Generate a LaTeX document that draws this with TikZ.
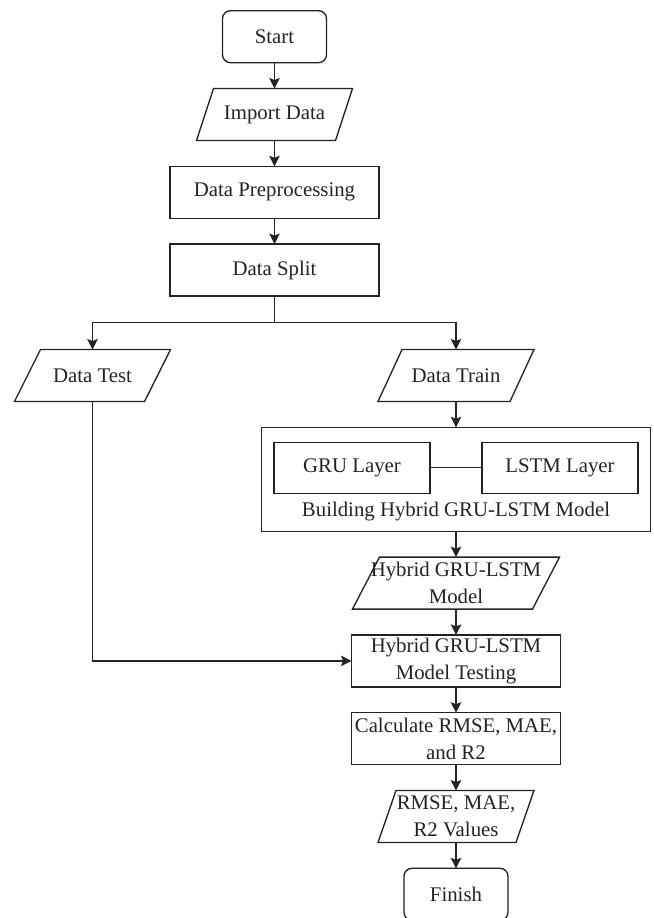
\documentclass[tikz,border=0pt]{standalone}
\usepackage{fontspec}
\setmainfont{Liberation Serif}
\usepackage{tikz}
\usetikzlibrary{positioning,arrows.meta,calc}
\definecolor{linecolor}{RGB}{35, 35, 35}
\definecolor{labelcolor}{RGB}{35, 35, 35}
\tikzset{
    base box/.style={rectangle, draw=linecolor, line width=0.95pt, text=labelcolor, align=center, inner xsep=2pt, inner ysep=1pt, outer sep=0pt, font=\fontsize{14.8pt}{18.9pt}\selectfont},
    terminal/.style={base box, rounded corners=0.2cm, minimum width=2.6cm, minimum height=1.3cm},
    process/.style={base box, minimum width=5.225cm, minimum height=1.3cm},
    layer/.style={base box, minimum width=3.9cm, minimum height=1.275cm},
    group box/.style={base box, minimum width=9.725cm, minimum height=2.6cm},
    io/.style={rectangle, text=labelcolor, align=center, inner xsep=0pt, inner ysep=1pt, outer sep=0pt, minimum height=1.3cm, font=\fontsize{14.8pt}{18.9pt}\selectfont,
        append after command={\pgfextra{
            \draw[line width=0.95pt, draw=linecolor]
                ($(\tikzlastnode.south west)+(-#1/2,0)$) --
                ($(\tikzlastnode.north west)+(#1/2,0)$) --
                ($(\tikzlastnode.north east)+(#1/2,0)$) --
                ($(\tikzlastnode.south east)+(-#1/2,0)$) -- cycle;
        }}},
    flow line/.style={line width=0.95pt, draw=linecolor},
    flow arrow/.style={flow line, -{Stealth[length=7.5pt, width=7.5pt, inset=1.5pt]}}
}
\begin{document}
\begin{tikzpicture}
    \useasboundingbox (0,0) rectangle (16.325,-22.95);

    % Preparation column
    \node[terminal] (start) at (6.8625,-0.9175) {Start};
    \node[io=0.425, minimum width=3.475cm, below=0.645cm of start] (import) {Import Data};
    \node[process, below=0.645cm of import] (prep) {Data Preprocessing};
    \node[process, below=0.645cm of prep] (split) {Data Split};
    \coordinate[below=0.665cm of split] (fork);

    % Split outputs
    \node[io=0.65, minimum width=3.25cm] (test) at (2.3125,-9.3875) {Data Test};
    \node[io=0.6, minimum width=3.3cm] (train) at (11.4,-9.3875) {Data Train};

    % Hybrid model block
    \node[group box, below=0.645cm of train] (build) {};
    \node[layer] (gru) at ($(build.center)+(-2.6,0.29)$) {GRU Layer};
    \node[layer] (lstm) at ($(build.center)+(2.6,0.29)$) {LSTM Layer};
    \node[above=0.22cm of build.south, text=labelcolor, inner sep=1pt, font=\fontsize{14.8pt}{18.9pt}\selectfont] (buildlabel) {Building Hybrid GRU-LSTM Model};

    % Testing and evaluation
    \node[io=0.675, minimum width=4.5cm, below=0.645cm of build] (model) {Hybrid GRU-LSTM\\Model};
    \node[process, below=0.645cm of model] (testing) {Hybrid GRU-LSTM\\Model Testing};
    \node[process, below=0.645cm of testing] (calc) {Calculate RMSE, MAE,\\and R2};
    \node[io=0.45, minimum width=3.45cm, below=0.645cm of calc] (result) {RMSE, MAE,\\R2 Values};
    \node[terminal, below=0.645cm of result] (finish) {Finish};

    % Connectors
    \draw[flow arrow] (start) -- (import);
    \draw[flow arrow] (import) -- (prep);
    \draw[flow arrow] (prep) -- (split);
    \draw[flow line] (split) -- (fork);
    \draw[flow arrow] (fork) -| (test);
    \draw[flow arrow] (fork) -| (train);
    \draw[flow arrow] (train) -- (build);
    \draw[flow line] (gru) -- (lstm);
    \draw[flow arrow] (build) -- (model);
    \draw[flow arrow] (model) -- (testing);
    \draw[flow arrow] (test) |- (testing);
    \draw[flow arrow] (testing) -- (calc);
    \draw[flow arrow] (calc) -- (result);
    \draw[flow arrow] (result) -- (finish);
\end{tikzpicture}
\end{document}
